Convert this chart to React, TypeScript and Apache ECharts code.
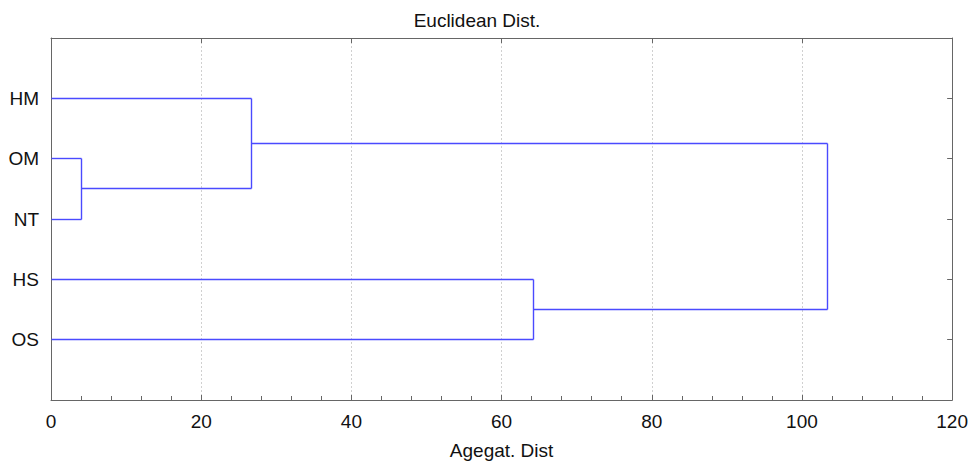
import React, { useEffect, useRef } from "react";
import * as echarts from "echarts";

const leaves = ["HM", "OM", "NT", "HS", "OS"];
// Cluster ids: 0..4 are leaves, 5.. are successive merges
const mergeA = [1, 0, 3, 6];
const mergeB = [2, 5, 4, 7];
const mergeHeight = [4.0, 26.7, 64.2, 103.4];
const xTicks = [0, 20, 40, 60, 80, 100, 120];

const chartTitle = "Euclidean Dist.";
const xName = "Agegat. Dist";

// Each segment: [x1, y1, x2, y2] in data units
function buildSegments() {
  const nodeX: number[] = leaves.map(() => 0);
  const nodeY: number[] = leaves.map((_, i) => i + 1);
  const segs: number[][] = [];
  mergeHeight.forEach((h, i) => {
    const a = mergeA[i];
    const b = mergeB[i];
    segs.push([nodeX[a], nodeY[a], h, nodeY[a]]);
    segs.push([h, nodeY[a], h, nodeY[b]]);
    segs.push([h, nodeY[b], nodeX[b], nodeY[b]]);
    nodeX.push(h);
    nodeY.push((nodeY[a] + nodeY[b]) / 2);
  });
  return segs;
}

export default function App() {
  const ref = useRef<HTMLDivElement>(null);
  useEffect(() => {
    if (!ref.current) return;
    const chart = echarts.init(ref.current, null, { renderer: "svg" });
    const font = "Liberation Sans, Arial, Helvetica, sans-serif";
    const axisColor = "#666666";
    const lineColor = "#4a4aff";
    const segs = buildSegments();
    const crisp = (v: number) => Math.round(v - 0.5) + 0.5;
    chart.setOption({
      animation: false,
      backgroundColor: "#ffffff",
      color: [lineColor],
      textStyle: { fontFamily: font },
      title: {
        text: chartTitle,
        left: 472,
        top: 6,
        textAlign: "center",
        textStyle: { fontFamily: font, fontSize: 19, fontWeight: "normal", color: "#111" },
      },
      grid: { left: 51, right: 17, top: 38, bottom: 62 },
      xAxis: [
        {
          type: "value",
          min: xTicks[0],
          max: xTicks[xTicks.length - 1],
          interval: 20,
          position: "bottom",
          name: xName,
          nameLocation: "middle",
          nameGap: 41,
          nameTextStyle: { fontFamily: font, fontSize: 19, color: "#111" },
          axisLine: { show: true, onZero: false, lineStyle: { color: axisColor, width: 1 } },
          axisTick: { show: true, inside: true, length: 5, lineStyle: { color: axisColor } },
          minorTick: { show: true, splitNumber: 5, length: 4, lineStyle: { color: axisColor } },
          axisLabel: { fontFamily: font, fontSize: 19, color: "#111", margin: 12 },
          splitLine: { show: true, lineStyle: { color: "#d0d0d0", type: [2, 2], width: 1 } },
        },
        {
          type: "value",
          min: xTicks[0],
          max: xTicks[xTicks.length - 1],
          interval: 20,
          position: "top",
          axisLine: { show: true, onZero: false, lineStyle: { color: axisColor, width: 1 } },
          axisTick: { show: true, inside: true, length: 5, lineStyle: { color: axisColor } },
          axisLabel: { show: false },
          splitLine: { show: false },
        },
      ],
      yAxis: [
        {
          type: "value",
          min: 0,
          max: leaves.length + 1,
          interval: 1,
          inverse: true,
          position: "left",
          axisLine: { show: true, onZero: false, lineStyle: { color: axisColor, width: 1 } },
          axisTick: { show: true, inside: true, length: 5, lineStyle: { color: axisColor } },
          axisLabel: {
            fontFamily: font,
            fontSize: 19,
            color: "#111",
            margin: 12,
            formatter: (v: number) => (v >= 1 && v <= leaves.length ? leaves[v - 1] : ""),
          },
          splitLine: { show: false },
        },
        {
          type: "value",
          min: 0,
          max: leaves.length + 1,
          interval: 1,
          inverse: true,
          position: "right",
          axisLine: { show: true, onZero: false, lineStyle: { color: axisColor, width: 1 } },
          axisTick: { show: true, inside: true, length: 5, lineStyle: { color: axisColor } },
          axisLabel: { show: false },
          splitLine: { show: false },
        },
      ],
      series: [
        {
          type: "custom",
          xAxisIndex: 0,
          yAxisIndex: 0,
          silent: true,
          z: 5,
          encode: { x: [0, 2], y: [1, 3] },
          data: segs,
          renderItem: (params: any, api: any) => {
            const p1 = api.coord([api.value(0), api.value(1)]);
            const p2 = api.coord([api.value(2), api.value(3)]);
            return {
              type: "line",
              shape: { x1: crisp(p1[0]), y1: crisp(p1[1]), x2: crisp(p2[0]), y2: crisp(p2[1]) },
              style: { stroke: lineColor, lineWidth: 1.4, fill: null },
            };
          },
        },
      ],
    });
    return () => chart.dispose();
  }, []);
  return <div ref={ref} style={{ width: 971, height: 465, position: "absolute", left: 0, top: 0 }} />;
}
